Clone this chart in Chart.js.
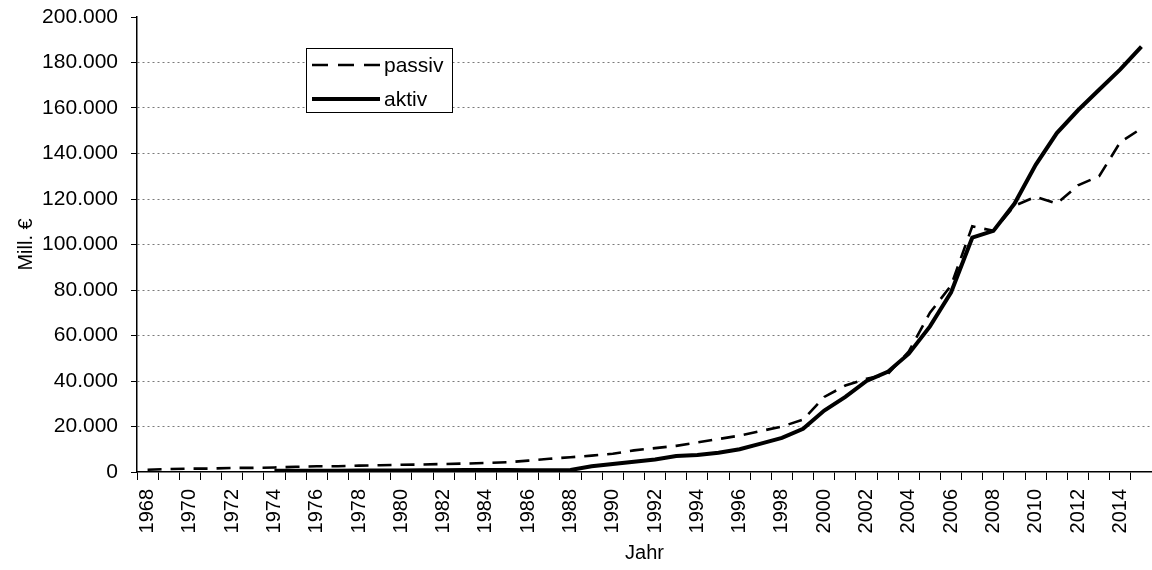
<!DOCTYPE html>
<html>
<head>
<meta charset="utf-8">
<script src="https://cdn.jsdelivr.net/npm/chart.js@4/dist/chart.umd.min.js"></script>
<style>
  html, body { margin: 0; padding: 0; background: #fff; }
  #wrap { width: 1152px; height: 570px; }
</style>
</head>
<body>
<div id="wrap"><canvas id="chart" width="1152" height="570"></canvas></div>
<script>
const years = [];
for (let y = 1968; y <= 2015; y++) years.push(String(y));

const passiv = [
  1000, 1300, 1500, 1500, 1800, 1800, 2000, 2300, 2500, 2500,
  2800, 3000, 3200, 3300, 3500, 3700, 4000, 4300, 5000, 5800,
  6500, 7200, 8000, 9500, 10500, 11500, 13000, 14500, 16000, 18000,
  20000, 23000, 33000, 38000, 41000, 43000, 53000, 70000, 82000, 108000,
  106000, 117000, 121000, 118000, 126000, 130000, 145000, 151000
];

const aktiv = [
  null, null, null, null, null, null, 500, 600, 600, 600,
  700, 700, 700, 800, 800, 900, 900, 900, 800, 800,
  900, 2500, 3500, 4500, 5500, 7000, 7500, 8500, 10000, 12500,
  15000, 19000, 27000, 33000, 40000, 44000, 52000, 64000, 79000, 103000,
  106000, 118000, 135000, 149000, 159000, 168000, 177000, 187000
];

const seriesNames = ["passiv", "aktiv"];
const yTicks = [0, 20000, 40000, 60000, 80000, 100000, 120000, 140000, 160000, 180000, 200000];

const FONT = "'Liberation Sans', Arial, Helvetica, sans-serif";

function fmt(v) {
  return String(v).replace(/\B(?=(\d{3})+(?!\d))/g, ".");
}

// legend box drawn inside the plot, like the original
const boxLegend = {
  id: "boxLegend",
  afterDraw(chart) {
    const ctx = chart.ctx;
    const x = 306, y = 48, w = 146, h = 64;
    ctx.save();
    ctx.fillStyle = "#fff";
    ctx.fillRect(x, y, w, h);
    ctx.strokeStyle = "#000";
    ctx.lineWidth = 1;
    ctx.strokeRect(x + 0.5, y + 0.5, w, h);
    const rows = [
      { name: seriesNames[0], dash: [16, 10], width: 2.5 },
      { name: seriesNames[1], dash: [], width: 4 }
    ];
    ctx.font = "21px " + FONT;
    ctx.textBaseline = "middle";
    ctx.fillStyle = "#000";
    rows.forEach((r, i) => {
      const cy = y + 17 + i * 34;
      ctx.beginPath();
      ctx.setLineDash(r.dash);
      ctx.lineWidth = r.width;
      ctx.moveTo(312, cy);
      ctx.lineTo(380, cy);
      ctx.stroke();
      ctx.setLineDash([]);
      ctx.fillText(r.name, 384, cy + 1);
    });
    ctx.restore();
  }
};

new Chart(document.getElementById("chart"), {
  type: "line",
  data: {
    labels: years,
    datasets: [
      {
        label: seriesNames[0],
        data: passiv,
        borderColor: "#000",
        borderWidth: 2.6,
        borderDash: [14, 9],
        pointRadius: 0,
        tension: 0,
        fill: false
      },
      {
        label: seriesNames[1],
        data: aktiv,
        borderColor: "#000",
        borderWidth: 4,
        pointRadius: 0,
        tension: 0,
        fill: false
      }
    ]
  },
  options: {
    responsive: false,
    animation: false,
    layout: { padding: { top: 17, right: 0, left: 0, bottom: 0 } },
    plugins: {
      legend: { display: false },
      tooltip: { enabled: false }
    },
    scales: {
      x: {
        type: "category",
        offset: true,
        grid: {
          offset: true,
          drawOnChartArea: false,
          tickLength: 8,
          tickColor: "#000",
          color: "#000"
        },
        border: { display: true, color: "#000", width: 1.5 },
        ticks: {
          autoSkip: false,
          maxRotation: 90,
          minRotation: 90,
          padding: 9,
          color: "#000",
          font: { family: FONT, size: 20 },
          callback: function (val, i) {
            return i % 2 === 0 ? this.getLabelForValue(val) : "";
          }
        },
        title: {
          display: true,
          text: "Jahr",
          color: "#000",
          font: { family: FONT, size: 20 },
          padding: { top: 4, bottom: 5 }
        },
        afterFit(scale) {
          scale.height = 98;
          scale.paddingLeft = 0;
          scale.paddingRight = 0;
          scale.paddingTop = 0;
          scale.paddingBottom = 0;
        }
      },
      y: {
        min: 0,
        max: 200000,
        afterBuildTicks(scale) {
          scale.ticks = yTicks.map(v => ({ value: v }));
        },
        grid: {
          color: (c) => (c.tick && (c.tick.value === 0 || c.tick.value === 200000)) ? "rgba(0,0,0,0)" : "#7a7a7a",
          lineWidth: 1,
          tickLength: 6,
          tickColor: "#000"
        },
        border: { display: true, color: "#000", width: 1.5, dash: [2, 3] },
        ticks: {
          padding: 13,
          color: "#000",
          font: { family: FONT, size: 21 },
          callback: (v) => fmt(v)
        },
        title: {
          display: true,
          text: "Mill. €",
          color: "#000",
          font: { family: FONT, size: 20 },
          padding: { top: 14, bottom: 0 }
        },
        afterFit(scale) {
          scale.width = 137;
          scale.paddingTop = 0;
          scale.paddingBottom = 0;
        }
      }
    }
  },
  plugins: [boxLegend]
});
</script>
</body>
</html>
